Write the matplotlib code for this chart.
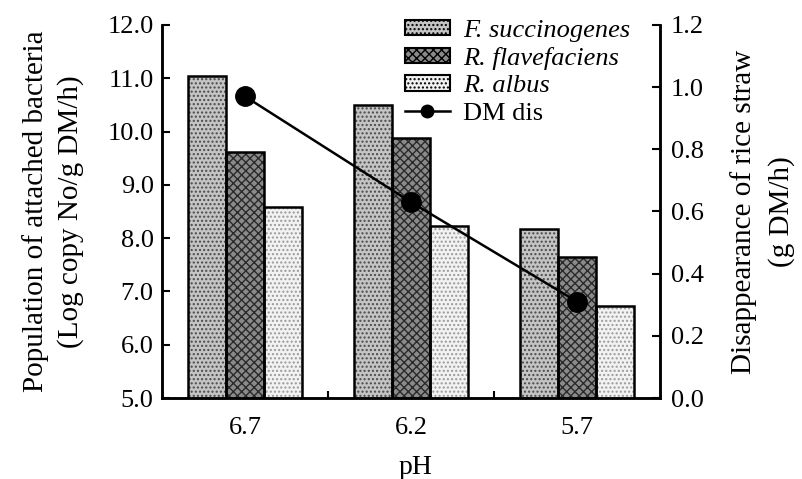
import numpy as np
import matplotlib
matplotlib.use("Agg")
import matplotlib.pyplot as plt
import matplotlib.patches as mpatches
from matplotlib.lines import Line2D
from matplotlib.ticker import FormatStrFormatter, FixedLocator

plt.rcParams['font.family'] = ['Liberation Serif', 'DejaVu Serif']
plt.rcParams['hatch.linewidth'] = 1.0

# data
ph_labels = ["6.7", "6.2", "5.7"]
f_succ = [11.05, 10.50, 8.18]
r_flav = [9.62, 9.88, 7.65]
r_albus = [8.58, 8.22, 6.72]
dm_dis = [0.97, 0.63, 0.31]
series_names = ["F. succinogenes", "R. flavefaciens", "R. albus"]

# bar looks: face colour, hatch, hatch colour
styles = [("#c4c4c4", "....", "#4a4a4a"),
          ("#8a8a8a", "xxxx", "#2a2a2a"),
          ("#f2f2f2", "....", "#9a9a9a")]

fs = 19
fig = plt.figure(figsize=(8.02, 4.79), dpi=100)
ax = fig.add_axes([0.202, 0.169, 0.621, 0.779])
ax2 = ax.twinx()

x = np.arange(len(ph_labels))
w = 0.23
handles = []
for i, vals in enumerate([f_succ, r_flav, r_albus]):
    fc, hatch, hc = styles[i]
    pos = x + (i - 1) * w
    ax.bar(pos, vals, width=w, color=fc, hatch=hatch, edgecolor=hc, linewidth=0, zorder=2)
    ax.bar(pos, vals, width=w, fill=False, edgecolor="black", linewidth=1.8, zorder=3)
    handles.append(mpatches.Patch(facecolor=fc, hatch=hatch, edgecolor="black", linewidth=1.5))

ax2.plot(x, dm_dis, color="black", lw=1.8, marker="o", markersize=14, zorder=5)
handles.append(Line2D([], [], color="black", lw=1.8, marker="o", markersize=9))

ax.set_xlim(-0.5, 2.5)
ax.set_ylim(5, 12)
ax2.set_ylim(0, 1.2)
ax.set_yticks(np.arange(5, 12.1, 1))
ax2.set_yticks(np.arange(0, 1.21, 0.2))
ax.yaxis.set_major_formatter(FormatStrFormatter("%.1f"))
ax2.yaxis.set_major_formatter(FormatStrFormatter("%.1f"))
ax.set_xticks(x)
ax.set_xticklabels(ph_labels)
ax.xaxis.set_minor_locator(FixedLocator([0.5, 1.5]))

for a in (ax, ax2):
    a.spines["top"].set_visible(False)
    for s in ("left", "right", "bottom"):
        a.spines[s].set_linewidth(1.8)
ax.tick_params(axis="x", which="major", length=0, labelsize=fs, pad=14)
ax.tick_params(axis="x", which="minor", direction="in", length=5, width=1.5)
ax.tick_params(axis="y", direction="in", length=6, width=1.5, labelsize=fs, pad=6)
ax2.tick_params(axis="y", direction="in", length=6, width=1.5, labelsize=fs, pad=8)

ax.set_xlabel("pH", fontsize=20)
ax.xaxis.set_label_coords(0.51, -0.152)
ax.set_ylabel("Population of attached bacteria\n(Log copy No/g DM/h)", fontsize=21,
              linespacing=1.4)
ax.yaxis.set_label_coords(-0.157, 0.5)
ax2.set_ylabel("Disappearance of rice straw\n(g DM/h)", fontsize=21, linespacing=1.55)
ax2.yaxis.set_label_coords(1.14, 0.5)

leg = fig.legend(handles, series_names + ["DM dis"], loc="upper left",
                 bbox_to_anchor=(0.48, 1.0), frameon=False, fontsize=19,
                 handlelength=1.7, handleheight=0.5, handletextpad=0.5,
                 labelspacing=0.2, borderpad=0.25)
for t in leg.get_texts()[:3]:
    t.set_fontstyle("italic")

fig.savefig("out.png", dpi=100)
